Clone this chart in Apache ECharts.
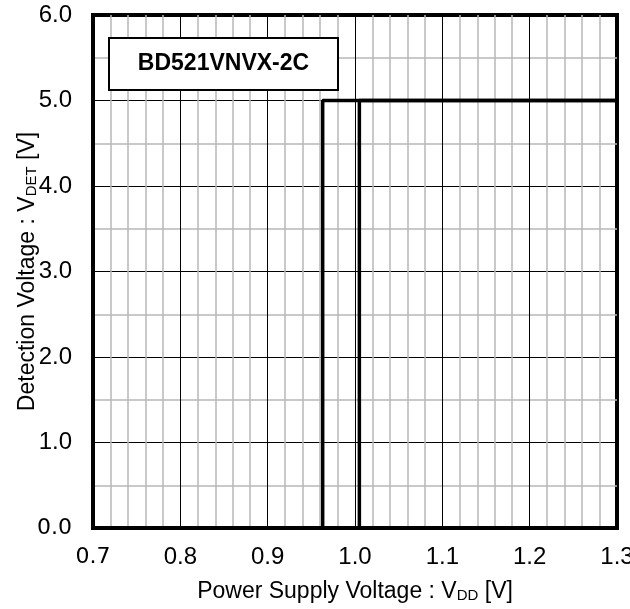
<!DOCTYPE html>
<html>
<head>
<meta charset="utf-8">
<script src="https://cdn.jsdelivr.net/npm/echarts@6/dist/echarts.min.js"></script>
<style>
  html, body { margin: 0; padding: 0; background: #fff; }
  #main { width: 630px; height: 609px; }
</style>
</head>
<body>
<div id="main"></div>
<script>
// VDD sweep: detection output steps up at two supply voltages
var releaseCurve = [[0.7, 0.0], [1.005, 0.0], [1.005, 5.0], [1.3, 5.0]];
var detectCurve = [[0.7, 0.0], [0.963, 0.0], [0.963, 5.0], [1.3, 5.0]];
var xRange = [0.7, 1.3];
var yRange = [0, 6];
var partName = "BD521VNVX-2C";

var font = "Liberation Sans, Arial, sans-serif";

var myChart = echarts.init(document.getElementById("main"));

function tickLabel(isFirst) {
  return function (value) {
    var s = value.toFixed(1);
    return isFirst(value) ? "{d|" + s + "}" : s;
  };
}

var labelRich = {
  d: { fontFamily: "DejaVu Sans", fontSize: 22, lineHeight: 24, color: "#000" },
};

var titleRich = {
  t: { fontFamily: font, fontSize: 23, color: "#000", lineHeight: 23, verticalAlign: "top" },
  s: { fontFamily: font, fontSize: 15, color: "#000", lineHeight: 15, padding: [10, 0, 0, 0], verticalAlign: "bottom" },
};

myChart.setOption({
  animation: false,
  backgroundColor: "#fff",
  grid: {
    left: 93,
    right: 13,
    top: 15,
    bottom: 81,
    outerBoundsMode: "none",
    containLabel: false,
    show: true,
    borderColor: "#000",
    borderWidth: 4,
  },
  xAxis: {
    type: "value",
    min: xRange[0],
    max: xRange[1],
    interval: 0.1,
    name: "{t|Power Supply Voltage : V}{s|DD}{t| [V]}",
    nameLocation: "middle",
    nameGap: 52,
    nameMoveOverlap: false,
    nameTextStyle: { rich: titleRich },
    axisLine: { lineStyle: { color: "#000", width: 4 } },
    axisTick: { show: false },
    axisLabel: {
      margin: 17,
      fontFamily: font,
      fontSize: 24,
      color: "#000",
      formatter: tickLabel(function (v) { return Math.abs(v - 0.7) < 1e-6; }),
      rich: labelRich,
    },
    splitLine: { show: true, lineStyle: { color: "#000", width: 1 } },
    minorTick: { show: false, splitNumber: 5 },
    minorSplitLine: { show: true, lineStyle: { color: "#b8b8b8", width: 1.5 } },
  },
  yAxis: {
    type: "value",
    min: yRange[0],
    max: yRange[1],
    interval: 1,
    name: "{t|Detection Voltage : V}{s|DET}{t| [V]}",
    nameLocation: "middle",
    nameRotate: 90,
    nameGap: 54,
    nameMoveOverlap: false,
    nameTextStyle: { rich: titleRich },
    axisLine: { show: true, lineStyle: { color: "#000", width: 4 } },
    axisTick: { show: false },
    axisLabel: {
      margin: 21,
      fontFamily: font,
      fontSize: 24,
      color: "#000",
      formatter: tickLabel(function (v) { return v === 0; }),
      rich: labelRich,
    },
    splitLine: { show: true, lineStyle: { color: "#000", width: 1 } },
    minorTick: { show: false, splitNumber: 2 },
    minorSplitLine: { show: true, lineStyle: { color: "#b8b8b8", width: 1.5 } },
  },
  graphic: [
    {
      type: "group",
      left: 108,
      top: 37,
      z: 100,
      children: [
        {
          type: "rect",
          z: 100,
          shape: { x: 0, y: 0, width: 229, height: 52 },
          style: { fill: "#fff", stroke: "#000", lineWidth: 2 },
        },
        {
          type: "text",
          z: 101,
          x: 114.5,
          y: 26,
          style: {
            text: partName,
            fontFamily: font,
            fontWeight: "bold",
            fontSize: 23,
            fill: "#000",
            align: "center",
            verticalAlign: "middle",
          },
        },
      ],
    },
  ],
  series: [
    {
      type: "line",
      data: releaseCurve,
      showSymbol: false,
      lineStyle: { color: "#000", width: 3.5 },
    },
    {
      type: "line",
      data: detectCurve,
      showSymbol: false,
      lineStyle: { color: "#000", width: 3.5 },
    },
  ],
});
</script>
</body>
</html>
